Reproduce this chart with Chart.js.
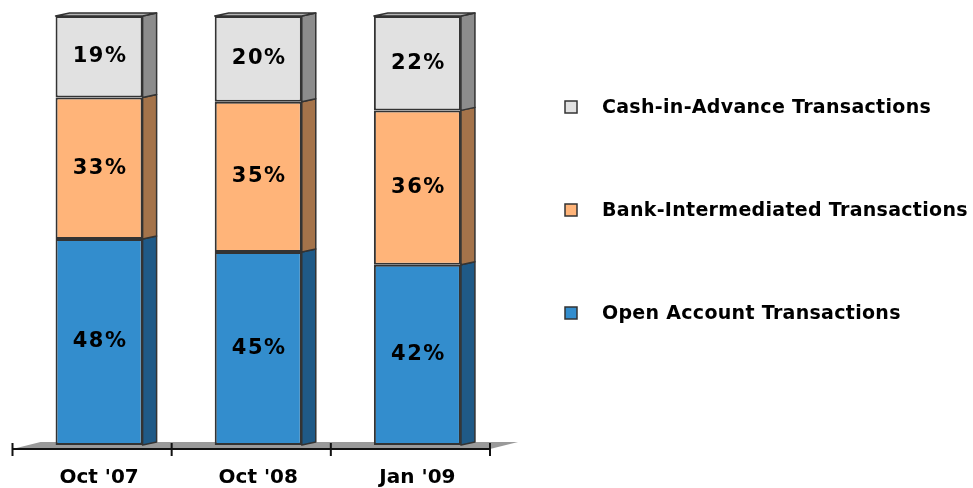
<!DOCTYPE html>
<html>
<head>
<meta charset="utf-8">
<script src="https://cdn.jsdelivr.net/npm/chart.js@4.4.1/dist/chart.umd.min.js"></script>
<style>
  html, body { margin: 0; padding: 0; background: #fff; }
  #wrap { width: 973px; height: 488px; }
</style>
</head>
<body>
<div id="wrap"><canvas id="myChart"></canvas></div>
<script>
// values
const categories = ["Oct '07", "Oct '08", "Jan '09"];
const openAccount = [48, 45, 42];
const bankIntermediated = [33, 35, 36];
const cashInAdvance = [19, 20, 22];

const seriesNames = ['Open Account Transactions', 'Bank-Intermediated Transactions', 'Cash-in-Advance Transactions'];
const frontColors = ['#338dcd', '#ffb479', '#e1e1e1'];
const sideColors = ['#1f5a87', '#a4734a', '#8c8c8c'];

const DX = 14, DY = 3; // depth of the fake 3D

// side + top faces of each bar, plus the % label
const depthPlugin = {
  id: 'depth',
  afterDatasetsDraw(chart) {
    const ctx = chart.ctx;
    const last = chart.data.datasets.length - 1;
    chart.data.datasets.forEach((ds, i) => {
      chart.getDatasetMeta(i).data.forEach((el, j) => {
        const { x, y, base, width } = el.getProps(['x', 'y', 'base', 'width'], true);
        const xl = x - width / 2, xr = x + width / 2;
        ctx.save();
        ctx.strokeStyle = '#333';
        ctx.lineWidth = 1.5;
        ctx.lineJoin = 'round';
        ctx.fillStyle = sideColors[i];
        ctx.beginPath();
        ctx.moveTo(xr, y);
        ctx.lineTo(xr + DX, y - DY);
        ctx.lineTo(xr + DX, base - DY);
        ctx.lineTo(xr, base);
        ctx.closePath();
        ctx.fill();
        ctx.stroke();
        if (i === last) {
          ctx.fillStyle = '#b5b5b5';
          ctx.beginPath();
          ctx.moveTo(xl, y);
          ctx.lineTo(xl + DX, y - DY);
          ctx.lineTo(xr + DX, y - DY);
          ctx.lineTo(xr, y);
          ctx.closePath();
          ctx.fill();
          ctx.stroke();
        }
        ctx.fillStyle = '#000';
        ctx.font = 'bold 21px "DejaVu Sans"';
        ctx.letterSpacing = '1.5px';
        ctx.textAlign = 'center';
        ctx.textBaseline = 'middle';
        ctx.fillText(ds.data[j] + '%', x + 1, (y + base) / 2);
        ctx.restore();
      });
    });
  }
};

// floor and axis line under the bars
const floorPlugin = {
  id: 'floor',
  beforeDatasetsDraw(chart) {
    const ctx = chart.ctx;
    const xs = chart.scales.x;
    const bottom = chart.chartArea.bottom;
    const shift = 7;
    ctx.save();
    ctx.fillStyle = '#9a9a9a';
    ctx.beginPath();
    ctx.moveTo(xs.left - shift, bottom + 4);
    ctx.lineTo(xs.right - shift, bottom + 4);
    ctx.lineTo(xs.right + 21, bottom - 3);
    ctx.lineTo(xs.left + 21, bottom - 3);
    ctx.closePath();
    ctx.fill();
    ctx.strokeStyle = '#111';
    ctx.lineWidth = 2;
    ctx.beginPath();
    ctx.moveTo(xs.left - shift, bottom + 4);
    ctx.lineTo(xs.right - shift, bottom + 4);
    const step = xs.width / categories.length;
    for (let i = 0; i <= categories.length; i++) {
      const tx = xs.left + i * step - shift;
      ctx.moveTo(tx, bottom - 2);
      ctx.lineTo(tx, bottom + 11);
    }
    ctx.stroke();
    ctx.restore();
  }
};

// legend on the right, top series first
const sideLegend = {
  id: 'sideLegend',
  afterDraw(chart) {
    const ctx = chart.ctx;
    const n = chart.data.datasets.length;
    ctx.save();
    ctx.font = 'bold 19px "DejaVu Sans"';
    ctx.letterSpacing = '0.3px';
    ctx.textBaseline = 'middle';
    for (let k = 0; k < n; k++) {
      const i = n - 1 - k;
      const cy = 107 + k * 103;
      ctx.fillStyle = frontColors[i];
      ctx.fillRect(565, cy - 6, 12, 12);
      ctx.strokeStyle = '#333';
      ctx.lineWidth = 1.5;
      ctx.strokeRect(565, cy - 6, 12, 12);
      ctx.fillStyle = '#000';
      ctx.fillText(chart.data.datasets[i].label, 602, cy + 1);
    }
    ctx.restore();
  }
};

Chart.defaults.font.family = '"DejaVu Sans", Verdana, sans-serif';

const datasets = [openAccount, bankIntermediated, cashInAdvance].map((vals, i) => ({
  label: seriesNames[i],
  data: vals,
  backgroundColor: frontColors[i],
  borderColor: '#333',
  borderWidth: 2,
  borderSkipped: false,
  barPercentage: 0.547,
  categoryPercentage: 1
}));

new Chart(document.getElementById('myChart'), {
  type: 'bar',
  data: { labels: categories, datasets: datasets },
  options: {
    responsive: true,
    maintainAspectRatio: false,
    animation: false,
    layout: { padding: { top: 16, left: 19.5, right: 476, bottom: 0 } },
    plugins: {
      legend: { display: false },
      tooltip: { enabled: false }
    },
    scales: {
      x: {
        stacked: true,
        grid: { display: false, drawTicks: false },
        border: { display: false },
        ticks: { color: '#000', padding: 21, font: { size: 20, weight: 'bold' } },
        afterFit(scale) { scale.height = 43; }
      },
      y: {
        stacked: true,
        display: false,
        min: 0,
        max: 100
      }
    }
  },
  plugins: [floorPlugin, depthPlugin, sideLegend]
});
</script>
</body>
</html>
